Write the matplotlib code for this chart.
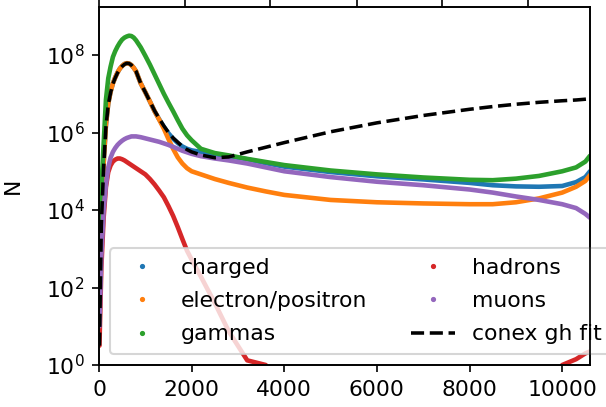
import numpy as np
import matplotlib
matplotlib.use("Agg")
import matplotlib.pyplot as plt
from matplotlib.lines import Line2D

plt.rcParams["font.size"] = 10.5

# depth grid and log10(N)
depth = [10, 50, 100, 150, 200, 250, 300, 350, 400, 450, 500, 550, 600, 650, 700, 750,
         800, 900, 1000, 1100, 1200, 1300, 1400, 1500, 1600, 1700, 1800, 1900, 2000,
         2200, 2500, 2800, 3200, 3600, 4000, 5000, 6000, 7000, 8000, 8500, 9000, 9500,
         10000, 10300, 10500, 10600]

log_charged = [1.6, 3.85, 5.2, 6.2, 6.75, 7.05, 7.27, 7.42, 7.55, 7.65, 7.72, 7.77, 7.79, 7.78, 7.74, 7.67,
               7.58, 7.27, 7.04, 6.8, 6.55, 6.34, 6.15, 5.98, 5.84, 5.73, 5.64, 5.58, 5.54,
               5.5, 5.44, 5.39, 5.31, 5.21, 5.12, 4.98, 4.87, 4.79, 4.7, 4.64, 4.61, 4.6,
               4.62, 4.72, 4.85, 5.0]
log_electrons = [1.5, 3.8, 5.2, 6.2, 6.75, 7.05, 7.27, 7.42, 7.55, 7.65, 7.72, 7.77, 7.79, 7.78, 7.74, 7.67,
                 7.58, 7.27, 7.04, 6.8, 6.55, 6.33, 6.1, 5.83, 5.58, 5.36, 5.2, 5.08, 5.0,
                 4.92, 4.8, 4.7, 4.58, 4.48, 4.39, 4.26, 4.2, 4.17, 4.15, 4.15, 4.2, 4.3,
                 4.45, 4.6, 4.75, 4.9]
log_gammas = [2.0, 4.5, 5.7, 6.85, 7.4, 7.7, 7.95, 8.1, 8.22, 8.32, 8.4, 8.45, 8.48, 8.5, 8.49, 8.45,
              8.38, 8.2, 7.98, 7.75, 7.5, 7.25, 7.0, 6.77, 6.55, 6.32, 6.1, 5.93, 5.8,
              5.58, 5.47, 5.41, 5.32, 5.24, 5.16, 5.02, 4.92, 4.84, 4.78, 4.77, 4.81, 4.88,
              5.0, 5.1, 5.25, 5.4]
log_hadrons = [0.5, 2.5, 3.8, 4.6, 4.98, 5.15, 5.25, 5.3, 5.33, 5.33, 5.31, 5.28, 5.24, 5.2, 5.16, 5.12,
               5.08, 5.0, 4.92, 4.8, 4.66, 4.5, 4.33, 4.1, 3.85, 3.56, 3.25, 2.95, 2.72,
               2.28, 1.6, 0.87, 0.12, 0.0, np.nan, np.nan, np.nan, np.nan, np.nan, np.nan, np.nan, np.nan,
               0.0, 0.15, 0.3, 0.35]
log_muons = [1.0, 2.8, 4.0, 4.65, 5.1, 5.35, 5.5, 5.6, 5.68, 5.74, 5.79, 5.83, 5.86, 5.88, 5.9, 5.9,
             5.9, 5.88, 5.85, 5.82, 5.79, 5.76, 5.72, 5.68, 5.63, 5.58, 5.53, 5.49, 5.45,
             5.39, 5.33, 5.28, 5.2, 5.1, 5.0, 4.85, 4.73, 4.64, 4.53, 4.45, 4.35, 4.26,
             4.15, 4.05, 3.9, 3.8]
log_conex = [0.5, 3.6, 5.1, 6.15, 6.72, 7.03, 7.26, 7.41, 7.54, 7.64, 7.71, 7.76, 7.79, 7.78, 7.74, 7.67,
             7.58, 7.27, 7.04, 6.8, 6.56, 6.36, 6.17, 6.0, 5.86, 5.75, 5.64, 5.56, 5.5,
             5.42, 5.35, 5.37, 5.5, 5.62, 5.74, 6.02, 6.25, 6.44, 6.6, 6.67, 6.73, 6.78,
             6.82, 6.84, 6.86, 6.87]

labels = ["charged", "electron/positron", "gammas", "hadrons", "muons"]
colors = ["C0", "C1", "C2", "C3", "C4"]
series = [log_charged, log_electrons, log_gammas, log_hadrons, log_muons]

top_ticks = [0, 1855, 3700, 5570, 7410, 9260]

fig = plt.figure(figsize=(606 / 150, 407 / 150), dpi=150)
ax = fig.add_axes([99 / 606, 42 / 407, 491 / 606, 358 / 407])

x = np.array(depth)
for logs, col in zip(series, colors):
    ax.plot(x, 10 ** np.array(logs, dtype=float), color=col, lw=2.2, solid_capstyle="round")
ax.plot(x, 10 ** np.array(log_conex), "--", color="black", lw=1.7)

ax.set_yscale("log")
ax.set_xlim(0, 10600)
ax.set_ylim(1, 10 ** 9.24)
ax.set_xticks([0, 2000, 4000, 6000, 8000, 10000])
ax.set_yticks([1, 1e2, 1e4, 1e6, 1e8])
ax.yaxis.set_minor_locator(matplotlib.ticker.NullLocator())
ax.set_ylabel("N")
ax.yaxis.set_label_coords(-0.155, 0.5)

# second depth axis on top (its labels fall outside the crop)
top = ax.twiny()
top.set_xlim(ax.get_xlim())
top.set_xticks(top_ticks)
top.set_xticklabels([])

handles = [Line2D([], [], ls="none", marker=".", ms=3, color=c) for c in colors]
handles.append(Line2D([], [], ls="--", color="black", lw=1.7))
ax.legend(handles, labels + ["conex gh fit"], ncol=2, loc="lower left",
          bbox_to_anchor=(0.0, 0.0), labelspacing=0.6, borderpad=0.45)

fig.savefig("out.png", dpi=150)
